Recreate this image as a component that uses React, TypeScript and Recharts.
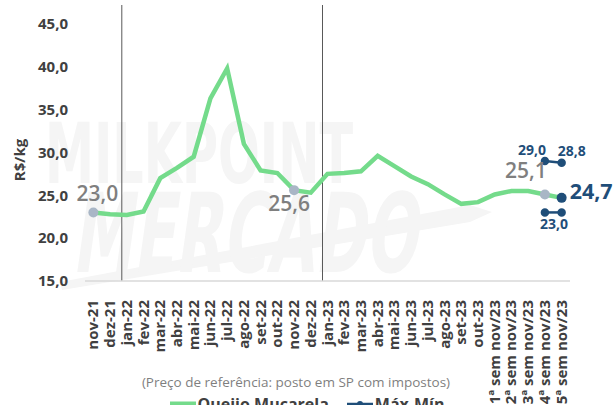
import { LineChart, Line, XAxis, YAxis, ReferenceLine, Legend, LabelList } from 'recharts';

const categories = [
  'nov-21', 'dez-21', 'jan-22', 'fev-22', 'mar-22', 'abr-22', 'mai-22', 'jun-22', 'jul-22', 'ago-22',
  'set-22', 'out-22', 'nov-22', 'dez-22', 'jan-23', 'fev-23', 'mar-23', 'abr-23', 'mai-23', 'jun-23',
  'jul-23', 'ago-23', 'set-23', 'out-23', '1ª sem nov/23', '2ª sem nov/23', '3ª sem nov/23',
  '4ª sem nov/23', '5ª sem nov/23',
];

const prices = [
  23.0, 22.8, 22.7, 23.1, 27.0, 28.2, 29.5, 36.3, 39.8, 31.0,
  27.9, 27.6, 25.6, 25.3, 27.5, 27.6, 27.8, 29.6, 28.4, 27.2,
  26.3, 25.1, 24.0, 24.2, 25.1, 25.5, 25.5, 25.1, 24.7,
];

const maxValues = [29.0, 28.8];
const minValues = [23.0, 23.0];
const yTicks = [15, 20, 25, 30, 35, 40, 45];
const dividers = ['jan-22', 'jan-23'];

const GREEN = '#74db8b';
const BLUE = '#1f4e79';
const GRAY = '#7f7f7f';
const DOT_GRAY = '#a9b6c6';
const TEXT = '#404040';
const FONT = '"Open Sans", sans-serif';

const lastIdx = categories.length - 1;
const rangeStart = categories.length - maxValues.length;

const data = categories.map((name, i) => ({
  name,
  price: prices[i],
  max: i >= rangeStart ? maxValues[i - rangeStart] : null,
  min: i >= rangeStart ? minValues[i - rangeStart] : null,
}));

const fmt = (v: number) => v.toFixed(1).replace('.', ',');

const grayDots = [0, 12, lastIdx - 1];

function PriceDot(props: any) {
  const { cx, cy, index } = props;
  if (index === lastIdx) return <circle key={index} cx={cx} cy={cy} r={5} fill={BLUE} />;
  if (grayDots.includes(index)) return <circle key={index} cx={cx} cy={cy} r={5} fill={DOT_GRAY} />;
  return <g key={index} />;
}

function PriceLabel(props: any) {
  const { x, y, value, index } = props;
  if (index === lastIdx) {
    return (
      <text x={x + 8} y={y - 5} fill={BLUE} fontSize={21.5} fontWeight={700} fontFamily={FONT} dominantBaseline="middle">
        {fmt(value)}
      </text>
    );
  }
  let dx = 0;
  let dy = 0;
  if (index === 0) { dx = 4; dy = -17; }
  else if (index === 12) { dx = -5; dy = 15; }
  else if (index === lastIdx - 1) { dx = -19; dy = -22; }
  else return null;
  return (
    <text x={x + dx} y={y + dy} fill={GRAY} fontSize={21} fontWeight={600} fontFamily={FONT} textAnchor="middle" dominantBaseline="middle">
      {fmt(value)}
    </text>
  );
}

function MaxLabel(props: any) {
  const { x, y, value, index } = props;
  if (value == null) return null;
  const dx = index === lastIdx ? 10 : -13;
  return (
    <text x={x + dx} y={y - 10} fill={BLUE} fontSize={14} fontWeight={700} fontFamily={FONT} textAnchor="middle" dominantBaseline="middle">
      {fmt(value)}
    </text>
  );
}

function MinLabel(props: any) {
  const { x, y, value, index } = props;
  if (value == null || index !== lastIdx - 1) return null;
  return (
    <text x={x + 9} y={y + 13} fill={BLUE} fontSize={14} fontWeight={700} fontFamily={FONT} textAnchor="middle" dominantBaseline="middle">
      {fmt(value)}
    </text>
  );
}

function XTick(props: any) {
  const { x, y, payload } = props;
  return (
    <g transform={`translate(${x},${y + 11})`}>
      <text transform="rotate(-90)" textAnchor="end" dy={5} fill={TEXT} fontSize={15} fontWeight={700} fontFamily={FONT}>
        {payload.value}
      </text>
    </g>
  );
}

function Divider(props: any) {
  const { x1, y1, x2, y2 } = props;
  return <line x1={x1 - 5} y1={y1} x2={x2 - 5} y2={y2} stroke="#595959" strokeWidth={1} />;
}

function LegendContent() {
  return (
    <div style={{ height: 50, fontFamily: FONT, textAlign: 'center' }}>
      <div style={{ height: 24, lineHeight: '24px', fontSize: 13.5, color: GRAY, marginLeft: 22 }}>
        (Preço de referência: posto em SP com impostos)
      </div>
      <div style={{ height: 20, lineHeight: '20px', fontSize: 16, fontWeight: 700, color: TEXT, display: 'flex', justifyContent: 'center', alignItems: 'center', marginLeft: 44 }}>
        <svg width={26} height={10} style={{ marginRight: 2 }}>
          <line x1={0} y1={5} x2={26} y2={5} stroke={GREEN} strokeWidth={5} />
        </svg>
        <span>Queijo Muçarela</span>
        <svg width={26} height={10} style={{ marginLeft: 18, marginRight: 2 }}>
          <line x1={0} y1={5} x2={26} y2={5} stroke={BLUE} strokeWidth={2.5} />
          <circle cx={13} cy={5} r={3} fill={BLUE} />
        </svg>
        <span>Máx-Mín</span>
      </div>
    </div>
  );
}

function Watermark() {
  return (
    <svg width={615} height={405} style={{ position: 'absolute', left: 0, top: 0 }}>
      <text x={45} y={183} fontFamily='"DejaVu Sans Condensed", "DejaVu Sans", sans-serif' fontWeight={700} fontSize={84}
        textLength={308} lengthAdjust="spacingAndGlyphs" fill="#f5f5f5">
        MILKPOINT
      </text>
      <polygon points="60,282 470,205 492,212 470,222 62,290" fill="#f5f5f5" />
      <g transform="skewX(-8)">
        <text x={110} y={272} fontFamily='"DejaVu Sans Condensed", "DejaVu Sans", sans-serif' fontWeight={700} fontSize={110}
          textLength={345} lengthAdjust="spacingAndGlyphs" fill="#f5f5f5">
          MERCADO
        </text>
      </g>
    </svg>
  );
}

export default function App() {
  return (
    <div style={{ position: 'absolute', left: 0, top: 0, width: 615, height: 405, overflow: 'hidden', background: '#fff' }}>
      <Watermark />
      <LineChart width={615} height={420} data={data} margin={{ top: 5, right: 45, left: 0, bottom: 0 }}>
        <XAxis
          dataKey="name"
          scale="band"
          interval={0}
          height={89}
          tickLine={false}
          axisLine={{ stroke: '#d9d9d9', strokeWidth: 1.5 }}
          tick={<XTick />}
        />
        <YAxis
          width={85}
          domain={[15, 47.2]}
          ticks={yTicks}
          axisLine={false}
          tickLine={false}
          tickSize={0}
          tickMargin={17}
          tickFormatter={fmt}
          tick={{ fill: TEXT, fontSize: 15, fontWeight: 700, fontFamily: FONT }}
          label={{
            content: () => (
              <text x={21} y={160} transform="rotate(-90 21 160)" textAnchor="middle" dominantBaseline="middle"
                fill={TEXT} fontSize={15} fontWeight={700} fontFamily={FONT}>
                R$/kg
              </text>
            ),
          }}
        />
        {dividers.map((d) => (
          <ReferenceLine key={d} x={d} shape={<Divider />} />
        ))}
        <Line
          dataKey="price"
          stroke={GREEN}
          strokeWidth={4.5}
          dot={<PriceDot />}
          activeDot={false}
          isAnimationActive={false}
        >
          <LabelList dataKey="price" content={<PriceLabel />} />
        </Line>
        <Line dataKey="max" stroke={BLUE} strokeWidth={2.5} dot={{ r: 3, fill: BLUE, stroke: BLUE }} activeDot={false} isAnimationActive={false}>
          <LabelList dataKey="max" content={<MaxLabel />} />
        </Line>
        <Line dataKey="min" stroke={BLUE} strokeWidth={2.5} dot={{ r: 3, fill: BLUE, stroke: BLUE }} activeDot={false} isAnimationActive={false}>
          <LabelList dataKey="min" content={<MinLabel />} />
        </Line>
        <Legend verticalAlign="bottom" content={<LegendContent />} />
      </LineChart>
    </div>
  );
}
